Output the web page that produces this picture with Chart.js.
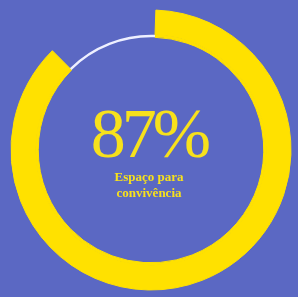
<!DOCTYPE html>
<html lang="pt">
<head>
    <meta charset="UTF-8">
    <title>Espaço para convivência</title>
    <script src="https://cdn.jsdelivr.net/npm/chart.js"></script>
    <style>
        html, body {
            margin: 0;
            padding: 0;
            background: #5b68c3;
        }

        .wrap {
            position: relative;
            width: 298px;
            height: 297px;
        }

        .center {
            position: absolute;
            left: 0;
            width: 298px;
            text-align: center;
            color: #f7e11c;
            font-family: "Liberation Serif", "DejaVu Serif", serif;
        }

        #big {
            top: 99px;
            font-size: 70px;
            letter-spacing: -4px;
            line-height: 70px;
        }

        #small {
            top: 169px;
            font-size: 13px;
            font-weight: bold;
            line-height: 16px;
        }
    </style>
</head>
<body>
    <div class="wrap">
        <canvas id="chartCanvas" width="298" height="297"></canvas>
        <div class="center" id="big"></div>
        <div class="center" id="small"></div>
    </div>

    <script>
        const labels = ['Espaço para convivência', 'Restante'];
        const values = [87, 13];
        const captionLines = ['Espaço para', 'convivência'];

        const yellow = '#ffe100';

        document.getElementById('big').textContent = values[0] + '%';
        document.getElementById('small').innerHTML = captionLines.join('<br>');

        const chartCanvas = document.getElementById('chartCanvas');

        new Chart(chartCanvas, {
            type: 'doughnut',
            data: {
                labels: labels,
                datasets: [
                    {
                        data: values,
                        backgroundColor: [yellow, 'rgba(0,0,0,0)'],
                        borderColor: [yellow, 'rgba(0,0,0,0)'],
                        borderWidth: [1, 0],
                        weight: 20
                    },
                    {
                        // thin white line through the remaining part
                        data: values,
                        backgroundColor: [yellow, '#eef0ff'],
                        borderColor: [yellow, 'rgba(0,0,0,0)'],
                        borderWidth: [1, 0],
                        weight: 2
                    }
                ]
            },
            options: {
                responsive: false,
                animation: false,
                radius: 140,
                cutout: 118,
                rotation: 2,
                layout: {
                    padding: { left: 4, top: 3 }
                },
                plugins: {
                    legend: { display: false },
                    tooltip: { enabled: false }
                }
            }
        });
    </script>
</body>
</html>
